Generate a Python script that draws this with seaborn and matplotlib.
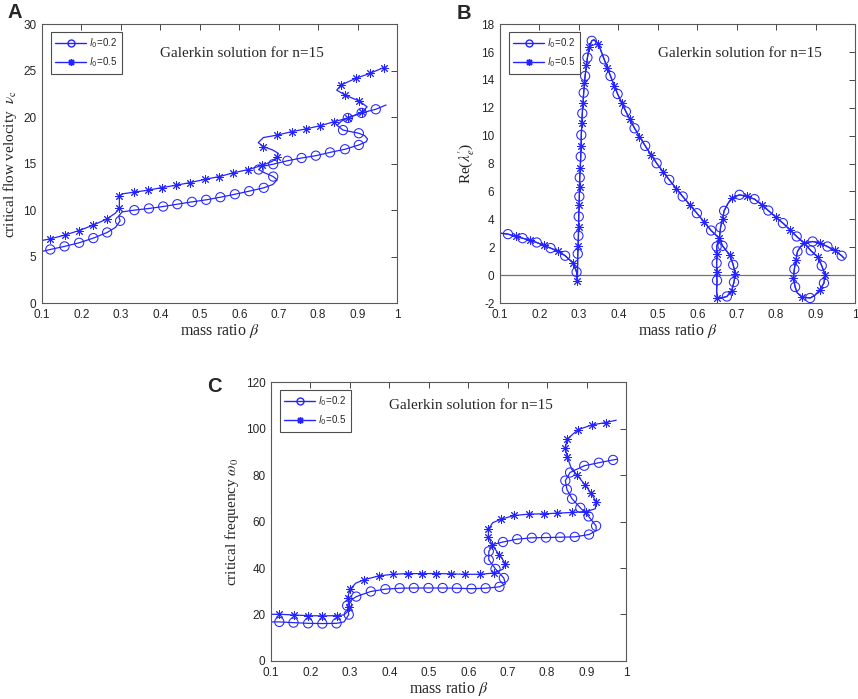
import numpy as np
import pandas as pd
import seaborn as sns
import matplotlib.pyplot as plt
from matplotlib.lines import Line2D
from matplotlib.font_manager import FontProperties

# ---- panel A: critical flow velocity ----
a02_x = [0.100, 0.121, 0.157, 0.194, 0.230, 0.265, 0.286, 0.298, 0.294, 0.303, 0.334, 0.371, 0.407,
         0.443, 0.480, 0.516, 0.552, 0.589, 0.625, 0.662, 0.685, 0.696, 0.686, 0.662, 0.649, 0.658,
         0.686, 0.722, 0.758, 0.794, 0.830, 0.868, 0.903, 0.922, 0.925, 0.918, 0.903, 0.863, 0.848,
         0.858, 0.875, 0.910, 0.946, 0.972]
a02_y = [5.55, 5.76, 6.09, 6.48, 6.98, 7.59, 8.13, 8.84, 9.35, 9.80, 9.99, 10.17, 10.38,
         10.63, 10.88, 11.10, 11.38, 11.70, 12.03, 12.39, 12.75, 13.25, 13.60, 14.05, 14.36, 14.70,
         14.93, 15.30, 15.60, 15.85, 16.20, 16.54, 17.00, 17.35, 17.65, 18.00, 18.26, 18.60, 19.10,
         19.55, 19.90, 20.45, 20.84, 21.30]
a02_mx = [0.121, 0.157, 0.194, 0.230, 0.265, 0.298, 0.334, 0.371, 0.407, 0.443, 0.480, 0.516, 0.552,
          0.589, 0.625, 0.662, 0.686, 0.649, 0.686, 0.722, 0.758, 0.794, 0.830, 0.868, 0.903, 0.903,
          0.863, 0.875, 0.910, 0.946]
a02_my = [5.76, 6.09, 6.48, 6.98, 7.59, 8.84, 9.99, 10.17, 10.38, 10.63, 10.88, 11.10, 11.38,
          11.70, 12.03, 12.39, 13.60, 14.36, 14.93, 15.30, 15.60, 15.85, 16.20, 16.54, 17.00, 18.26,
          18.60, 19.90, 20.45, 20.84]

a05_x = [0.100, 0.121, 0.157, 0.194, 0.230, 0.265, 0.286, 0.296, 0.296, 0.294, 0.305, 0.332, 0.368,
         0.404, 0.440, 0.476, 0.513, 0.549, 0.585, 0.622, 0.658, 0.684, 0.695, 0.699, 0.685, 0.661,
         0.648, 0.661, 0.695, 0.733, 0.768, 0.805, 0.840, 0.875, 0.910, 0.924, 0.904, 0.868, 0.847,
         0.858, 0.895, 0.931, 0.970]
a05_y = [6.73, 6.90, 7.30, 7.80, 8.38, 9.06, 9.67, 10.20, 11.10, 11.46, 11.75, 11.92, 12.13,
         12.42, 12.67, 12.96, 13.30, 13.60, 14.00, 14.35, 14.80, 15.25, 15.70, 16.10, 16.45, 16.83,
         17.25, 17.80, 18.05, 18.43, 18.72, 19.07, 19.50, 19.90, 20.50, 21.10, 21.73, 22.37, 22.90,
         23.45, 24.16, 24.70, 25.40]
a05_mx = [0.121, 0.157, 0.194, 0.230, 0.265, 0.296, 0.294, 0.332, 0.368, 0.404, 0.440, 0.476, 0.513,
          0.549, 0.585, 0.622, 0.658, 0.695, 0.661, 0.695, 0.733, 0.768, 0.805, 0.840, 0.875, 0.910,
          0.904, 0.868, 0.858, 0.895, 0.931, 0.968]
a05_my = [6.90, 7.30, 7.80, 8.38, 9.06, 10.20, 11.46, 11.92, 12.13, 12.42, 12.67, 12.96, 13.30,
          13.60, 14.00, 14.35, 14.80, 15.70, 16.83, 18.05, 18.43, 18.72, 19.07, 19.50, 19.90, 20.50,
          21.73, 22.37, 23.45, 24.16, 24.70, 25.30]

# ---- panel B: Re(lambda'_e), both l0 share the same curve ----
b_x = [0.100, 0.120, 0.141, 0.157, 0.176, 0.193, 0.211, 0.228, 0.248, 0.265, 0.286, 0.294, 0.296,
       0.297, 0.2987, 0.2995, 0.301, 0.302, 0.3046, 0.306, 0.3085, 0.312, 0.3156, 0.3215, 0.3265,
       0.3325, 0.338, 0.349, 0.364, 0.380, 0.398, 0.419, 0.441, 0.468, 0.497, 0.529, 0.563, 0.599,
       0.635, 0.656, 0.664, 0.683, 0.691, 0.696, 0.693, 0.687, 0.675, 0.664, 0.651, 0.649, 0.650,
       0.649, 0.649, 0.650, 0.649, 0.656, 0.659, 0.664, 0.668, 0.678, 0.687, 0.707, 0.726, 0.745,
       0.764, 0.780, 0.799, 0.817, 0.835, 0.852, 0.8707, 0.8876, 0.9053, 0.9155, 0.924, 0.921,
       0.911, 0.898, 0.886, 0.865, 0.853, 0.848, 0.8436, 0.846, 0.850, 0.854, 0.862, 0.8707, 0.8925,
       0.911, 0.930, 0.948, 0.966, 0.972]
b_y = [3.01, 2.94, 2.77, 2.65, 2.49, 2.34, 2.13, 1.94, 1.70, 1.39, 0.86, 0.22, -0.45,
       1.53, 2.82, 4.20, 5.64, 7.00, 8.50, 10.05, 11.60, 13.08, 14.28, 15.60, 16.38,
       16.80, 16.88, 16.60, 15.47, 14.28, 12.99, 11.73, 10.53, 9.27, 8.02, 6.83, 5.64, 4.44,
       3.20, 2.65, 2.10, 1.41, 0.74, 0.08, -0.50, -1.12, -1.53, -1.62, -1.64, -1.20, -0.38,
       0.22, 0.86, 1.51, 2.05, 2.65, 3.42, 4.04, 4.61, 5.15, 5.52, 5.76, 5.64, 5.45,
       5.04, 4.63, 4.16, 3.73, 3.25, 2.77, 2.30, 1.77, 1.29, 0.67, 0.03, -0.57,
       -1.05, -1.45, -1.64, -1.57, -1.25, -0.85, -0.21, 0.43, 1.10, 1.70, 2.05, 2.30, 2.41,
       2.30, 2.05, 1.77, 1.39, 1.22]
b02_mx = [0.120, 0.157, 0.193, 0.228, 0.265, 0.294, 0.297, 0.2987, 0.2995, 0.301, 0.302, 0.3046,
          0.306, 0.3085, 0.312, 0.3156, 0.3215, 0.3325, 0.364, 0.380, 0.398, 0.419, 0.441, 0.468,
          0.497, 0.529, 0.563, 0.599, 0.635, 0.664, 0.691, 0.693, 0.675, 0.650, 0.649, 0.649, 0.659,
          0.668, 0.707, 0.745, 0.780, 0.817, 0.852, 0.8876, 0.9155, 0.921, 0.886, 0.848, 0.846,
          0.854, 0.8925, 0.930, 0.966]
b02_my = [2.94, 2.65, 2.34, 1.94, 1.39, 0.22, 1.53, 2.82, 4.20, 5.64, 7.00, 8.50,
          10.05, 11.60, 13.08, 14.28, 15.60, 16.80, 15.47, 14.28, 12.99, 11.73, 10.53, 9.27,
          8.02, 6.83, 5.64, 4.44, 3.20, 2.10, 0.74, -0.50, -1.53, -0.38, 0.86, 2.05, 3.42,
          4.61, 5.76, 5.45, 4.63, 3.73, 2.77, 1.77, 0.67, -0.57, -1.64, -0.85, 0.43,
          1.70, 2.41, 2.05, 1.39]
b05_mx = [0.141, 0.176, 0.211, 0.248, 0.286, 0.296, 0.297, 0.299, 0.300, 0.3015, 0.303, 0.305,
          0.307, 0.310, 0.3139, 0.318, 0.3265, 0.349, 0.372, 0.389, 0.409, 0.430, 0.453, 0.482,
          0.514, 0.546, 0.582, 0.617, 0.656, 0.683, 0.696, 0.687, 0.651, 0.649, 0.650, 0.664,
          0.687, 0.726, 0.764, 0.799, 0.835, 0.8707, 0.9053, 0.924, 0.911, 0.865, 0.8436, 0.850,
          0.911, 0.948]
b05_my = [2.77, 2.49, 2.13, 1.70, 0.86, -0.40, 2.10, 3.44, 5.04, 6.35, 7.67, 9.29,
          10.90, 12.37, 13.75, 15.07, 16.38, 16.60, 14.83, 13.56, 12.37, 11.17, 9.93, 8.64,
          7.38, 6.19, 5.00, 3.80, 2.65, 1.41, 0.08, -1.12, -1.64, 0.22, 1.51, 4.04,
          5.52, 5.64, 5.04, 4.16, 3.25, 2.30, 1.29, 0.03, -1.05, -1.57, -0.21, 1.10,
          2.30, 1.77]

# ---- panel C: critical frequency ----
c02_x = [0.100, 0.121, 0.157, 0.194, 0.230, 0.266, 0.285, 0.297, 0.293, 0.300, 0.316, 0.353, 0.390,
         0.426, 0.462, 0.499, 0.535, 0.571, 0.608, 0.644, 0.679, 0.694, 0.690, 0.669, 0.652, 0.652,
         0.665, 0.688, 0.724, 0.761, 0.797, 0.833, 0.870, 0.906, 0.924, 0.924, 0.905, 0.884, 0.863,
         0.850, 0.846, 0.858, 0.894, 0.931, 0.967, 0.977]
c02_y = [16.8, 16.8, 16.5, 16.2, 16.1, 16.2, 16.8, 19.95, 23.8, 25.8, 27.7, 29.9, 30.9,
         31.3, 31.4, 31.4, 31.4, 31.3, 31.1, 31.3, 31.9, 33.2, 35.7, 39.6, 43.5, 47.2,
         50.2, 51.2, 52.4, 53.0, 53.1, 53.25, 53.4, 54.4, 56.0, 58.1, 62.2, 65.9, 69.8,
         73.8, 77.6, 81.1, 84.0, 85.3, 86.5, 86.8]
c02_mx = [0.121, 0.157, 0.194, 0.230, 0.266, 0.297, 0.293, 0.316, 0.353, 0.390, 0.426, 0.462, 0.499,
          0.535, 0.571, 0.608, 0.644, 0.679, 0.690, 0.669, 0.652, 0.652, 0.688, 0.724, 0.761, 0.797,
          0.833, 0.870, 0.906, 0.924, 0.905, 0.884, 0.863, 0.850, 0.846, 0.858, 0.894, 0.931, 0.967]
c02_my = [16.8, 16.5, 16.2, 16.1, 16.2, 19.95, 23.8, 27.7, 29.9, 30.9, 31.3, 31.4, 31.4,
          31.4, 31.3, 31.1, 31.3, 31.9, 35.7, 39.6, 43.5, 47.2, 51.2, 52.4, 53.0, 53.1,
          53.25, 53.4, 54.4, 58.1, 62.2, 65.9, 69.8, 73.8, 77.6, 81.1, 84.0, 85.3, 86.5]

c05_x = [0.100, 0.121, 0.157, 0.194, 0.230, 0.266, 0.285, 0.295, 0.298, 0.294, 0.301, 0.315, 0.335,
         0.373, 0.409, 0.446, 0.482, 0.519, 0.556, 0.592, 0.629, 0.664, 0.688, 0.694, 0.679, 0.661,
         0.651, 0.651, 0.662, 0.683, 0.717, 0.754, 0.791, 0.826, 0.862, 0.899, 0.922, 0.924, 0.911,
         0.896, 0.875, 0.862, 0.851, 0.846, 0.851, 0.878, 0.914, 0.949, 0.975]
c05_y = [20.1, 20.1, 19.8, 19.5, 19.4, 19.5, 19.8, 21.5, 23.4, 27.3, 31.0, 33.5, 34.9,
         36.6, 37.3, 37.6, 37.6, 37.6, 37.5, 37.3, 37.3, 37.8, 39.5, 41.9, 45.6, 49.7,
         53.5, 56.7, 59.5, 61.0, 62.6, 63.2, 63.3, 63.6, 63.9, 64.3, 65.5, 68.6, 72.2,
         75.8, 80.1, 82.5, 87.7, 91.6, 95.5, 99.5, 101.6, 102.6, 103.6]
c05_mx = [0.121, 0.157, 0.194, 0.230, 0.266, 0.298, 0.294, 0.301, 0.335, 0.373, 0.409, 0.446, 0.482,
          0.519, 0.556, 0.592, 0.629, 0.664, 0.694, 0.679, 0.661, 0.651, 0.651, 0.683, 0.717, 0.754,
          0.791, 0.826, 0.862, 0.899, 0.924, 0.911, 0.896, 0.875, 0.851, 0.846, 0.851, 0.878, 0.914,
          0.949]
c05_my = [20.1, 19.8, 19.5, 19.4, 19.5, 23.4, 27.3, 31.0, 34.9, 36.6, 37.3, 37.6, 37.6,
          37.6, 37.5, 37.3, 37.3, 37.8, 41.9, 45.6, 49.7, 53.5, 56.7, 61.0, 62.6, 63.2,
          63.3, 63.6, 63.9, 64.3, 68.6, 72.2, 75.8, 80.1, 87.7, 91.6, 95.5, 99.5, 101.6,
          102.6]

legend_labels = [r'$\mathit{l}_0$=0.2', r'$\mathit{l}_0$=0.5']
x_ticks = [0.1, 0.2, 0.3, 0.4, 0.5, 0.6, 0.7, 0.8, 0.9, 1.0]
x_ticklabels = ['0.1', '0.2', '0.3', '0.4', '0.5', '0.6', '0.7', '0.8', '0.9', '1']

BLUE = '#2424ff'
STAR = (8, 2, 0)
SERIF = 'Liberation Serif'
SANS = 'Liberation Sans'


def draw_series(ax, lx, ly, mx, my, marker):
    sns.lineplot(x=lx, y=ly, sort=False, estimator=None, color=BLUE, lw=0.9, ax=ax)
    if marker == 'o':
        sns.scatterplot(x=mx, y=my, marker='o', s=44, facecolor='none', edgecolor=BLUE,
                        linewidth=0.75, ax=ax, zorder=3)
    else:
        sns.scatterplot(x=mx, y=my, marker=STAR, s=32, color=BLUE, edgecolor=BLUE,
                        linewidth=0.7, ax=ax, zorder=3)


def style_axes(ax, ylim, yticks, ylabel):
    ax.set_xlim(0.1, 1.0)
    ax.set_ylim(*ylim)
    ax.set_xticks(x_ticks)
    ax.set_xticklabels(x_ticklabels)
    ax.set_yticks(yticks)
    ax.set_yticklabels([str(v) for v in yticks])
    ax.tick_params(direction='in', length=4, width=0.6, top=True, right=True,
                   labelsize=8.5, colors='0.15', pad=4)
    for lab in ax.get_xticklabels() + ax.get_yticklabels():
        lab.set_fontfamily(SANS)
    for sp in ax.spines.values():
        sp.set_color('0.35')
        sp.set_linewidth(0.8)
    ax.set_xlabel(r'mass ratio $\beta$', fontfamily=SERIF, math_fontfamily='stix',
                  fontsize=11.5, labelpad=1)
    ax.set_ylabel(ylabel, fontfamily=SERIF, math_fontfamily='stix', fontsize=11, labelpad=3)
    handles = [Line2D([], [], color=BLUE, lw=1, marker='o', mfc='none', mec=BLUE, ms=5),
               Line2D([], [], color=BLUE, lw=1, marker=STAR, mec=BLUE, ms=5)]
    prop = FontProperties(family=SANS, size=7, math_fontfamily='dejavusans')
    leg = ax.legend(handles, legend_labels, loc='upper left', bbox_to_anchor=(0.025, 0.972),
                    borderaxespad=0, prop=prop, handlelength=3.2, fancybox=False,
                    framealpha=1, edgecolor='0.3', borderpad=0.45, labelspacing=0.55,
                    handletextpad=0.3)
    leg.get_frame().set_linewidth(0.8)


def main():
    sns.set_style('white')
    plt.rcParams['font.family'] = [SERIF, 'DejaVu Serif']
    plt.rcParams['mathtext.fontset'] = 'stix'

    fig = plt.figure(figsize=(8.58, 6.99), dpi=100)
    ax_a = fig.add_axes([0.0490, 0.5665, 0.4138, 0.3990])
    ax_b = fig.add_axes([0.5828, 0.5665, 0.4138, 0.3990])
    ax_c = fig.add_axes([0.3159, 0.0544, 0.4138, 0.3990])

    draw_series(ax_a, a02_x, a02_y, a02_mx, a02_my, 'o')
    draw_series(ax_a, a05_x, a05_y, a05_mx, a05_my, '*')
    style_axes(ax_a, (0, 30), [0, 5, 10, 15, 20, 25, 30], r'critical flow velocity  $\nu_{\rm c}$')

    ax_b.axhline(0, color='0.45', lw=0.9, zorder=1)
    draw_series(ax_b, b_x, b_y, b02_mx, b02_my, 'o')
    draw_series(ax_b, b_x, b_y, b05_mx, b05_my, '*')
    style_axes(ax_b, (-2, 18), [-2, 0, 2, 4, 6, 8, 10, 12, 14, 16, 18], r"Re($\lambda_e^{\prime}$)")

    draw_series(ax_c, c02_x, c02_y, c02_mx, c02_my, 'o')
    draw_series(ax_c, c05_x, c05_y, c05_mx, c05_my, '*')
    style_axes(ax_c, (0, 120), [0, 20, 40, 60, 80, 100, 120], r'critical frequency $\omega_0$')

    for ax, tx, ty in [(ax_a, 0.563, 0.896), (ax_b, 0.676, 0.896), (ax_c, 0.563, 0.915)]:
        ax.text(tx, ty, 'Galerkin solution for n=15', transform=ax.transAxes, ha='center',
                va='center', fontfamily=SERIF, fontsize=11)

    for letter, fx, fy in [('A', 7, 3), ('B', 457, 4), ('C', 207, 377)]:
        fig.text(fx / 858, 1 - fy / 699, letter, ha='left', va='top', fontfamily=SANS,
                 fontweight='bold', fontsize=14.5)

    fig.savefig('out.png', dpi=100)


if __name__ == '__main__':
    main()
